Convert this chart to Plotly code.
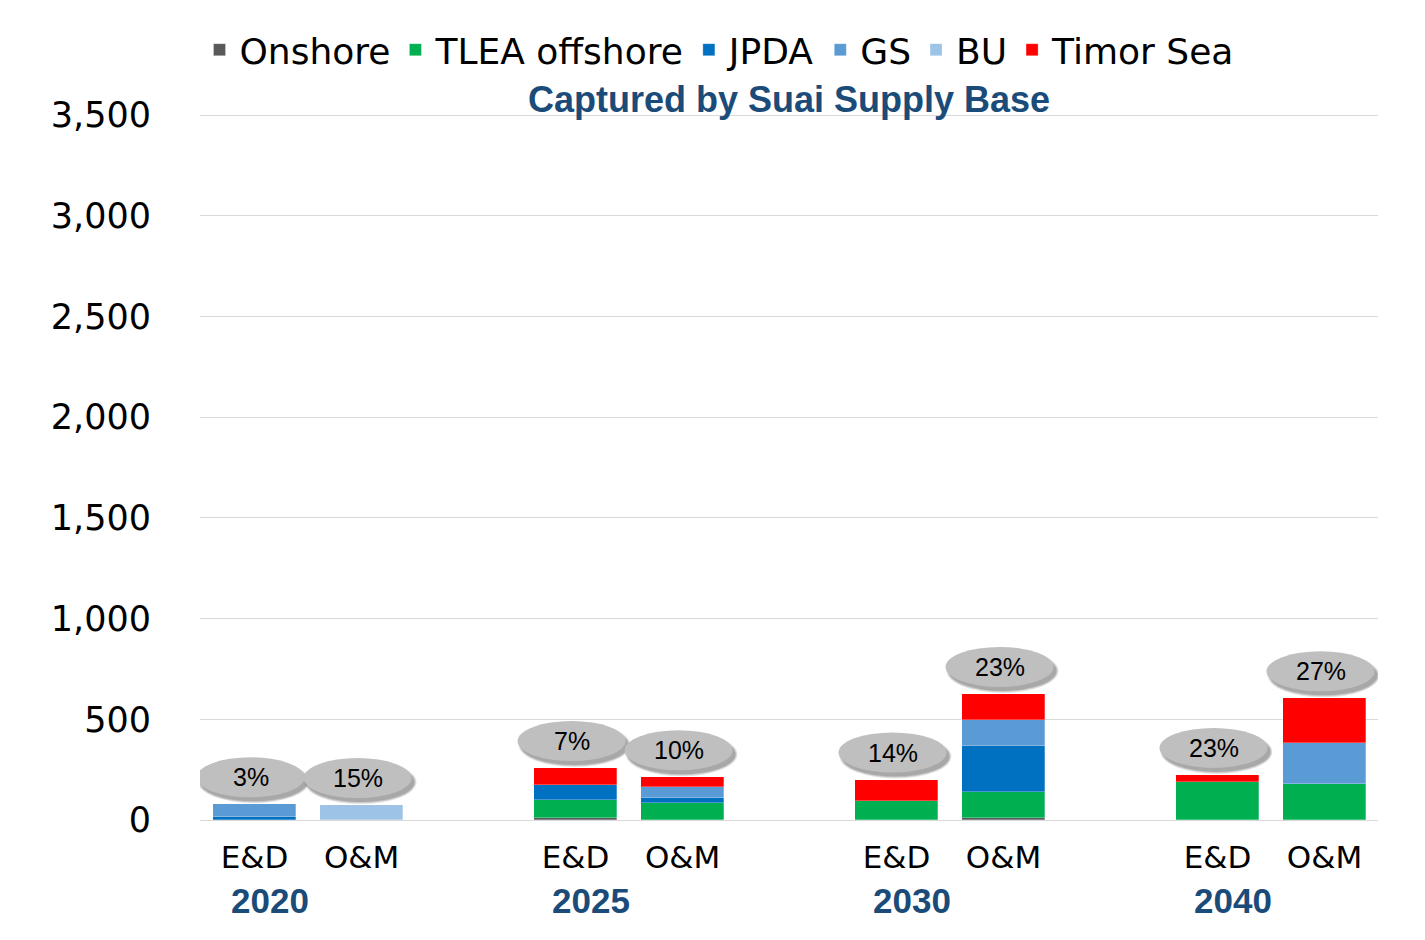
import plotly.graph_objects as go

# ---------------------------------------------------------------------------
# Data
# ---------------------------------------------------------------------------
YEARS = ["2020", "2025", "2030", "2040"]
PHASES = ["E&D", "O&M"]

# one value per bar: 2020 E&D, 2020 O&M, 2025 E&D, 2025 O&M, 2030 ..., 2040 ...
ONSHORE = [0, 0, 10, 0, 0, 8, 0, 0]
TLEA_OFFSHORE = [0, 0, 88, 83, 93, 131, 191, 180]
JPDA = [15, 0, 78, 26, 0, 229, 0, 0]
GS = [63, 0, 0, 54, 0, 127, 0, 204]
BU = [0, 74, 0, 0, 0, 0, 0, 0]
TIMOR_SEA = [0, 0, 82, 49, 108, 131, 33, 220]
SHARE_LABELS = ["3%", "15%", "7%", "10%", "14%", "23%", "23%", "27%"]

Y_TICKS = [0, 500, 1000, 1500, 2000, 2500, 3000, 3500]

# ---------------------------------------------------------------------------
# Style
# ---------------------------------------------------------------------------
COLORS = {
    "onshore": "#595959",
    "tlea": "#00B050",
    "jpda": "#0070C0",
    "gs": "#5B9BD5",
    "bu": "#9DC3E6",
    "timor": "#FF0000",
    "navy": "#1B4B78",
    "grid": "#D9D9D9",
    "bubble": "#BFBFBF",
}
WIDE_FONT = "DejaVu Sans, Verdana, sans-serif"
ARIAL = "Liberation Sans, Arial, sans-serif"

GROUP_STEP = 3  # distance between year groups, in bar slots

# bar positions derived from category order
x_pos = [gi * GROUP_STEP + pi for gi in range(len(YEARS)) for pi in range(len(PHASES))]
tick_text = [p for _ in YEARS for p in PHASES]

series = [
    ("Onshore", ONSHORE, COLORS["onshore"]),
    ("TLEA offshore", TLEA_OFFSHORE, COLORS["tlea"]),
    ("JPDA", JPDA, COLORS["jpda"]),
    ("GS", GS, COLORS["gs"]),
    ("BU", BU, COLORS["bu"]),
    ("Timor Sea", TIMOR_SEA, COLORS["timor"]),
]

fig = go.Figure()
for name, vals, color in series:
    fig.add_trace(go.Bar(
        x=x_pos, y=vals, name=name,
        marker=dict(color=color, line=dict(color="rgba(255,255,255,0.45)", width=0.6)),
        width=0.77,
    ))

totals = [sum(v) for v in zip(*[s[1] for s in series])]

# grey "bubble" labels with a soft shadow above each bar
BX0, BX1, BY0, BY1 = -58, 50, 7, 47
shapes = []
annotations = []
for xp, tot, lab in zip(x_pos, totals, SHARE_LABELS):
    for k, alpha in enumerate([0.10, 0.12, 0.16]):
        grow = 2 - k
        shapes.append(dict(
            type="circle", xref="x", yref="y", xsizemode="pixel", ysizemode="pixel",
            xanchor=xp, yanchor=tot,
            x0=BX0 + 3 - grow, x1=BX1 + 3 + grow, y0=BY0 - 4 - grow, y1=BY1 - 4 + grow,
            fillcolor=f"rgba(0,0,0,{alpha})", line=dict(width=0), layer="above",
        ))
    shapes.append(dict(
        type="circle", xref="x", yref="y", xsizemode="pixel", ysizemode="pixel",
        xanchor=xp, yanchor=tot, x0=BX0, x1=BX1, y0=BY0, y1=BY1,
        fillcolor=COLORS["bubble"], line=dict(width=0), layer="above",
    ))
    annotations.append(dict(
        x=xp, y=tot, xref="x", yref="y", text=lab, showarrow=False,
        xshift=(BX0 + BX1) / 2, yshift=(BY0 + BY1) / 2, yanchor="middle",
        font=dict(family=ARIAL, size=25, color="#000000"),
    ))

# year labels under each group
for gi, yr in enumerate(YEARS):
    annotations.append(dict(
        x=gi * GROUP_STEP, y=-0.114, xref="x", yref="paper", text=f"<b>{yr}</b>",
        showarrow=False, xshift=15, yanchor="middle",
        font=dict(family=ARIAL, size=35, color=COLORS["navy"]),
    ))

# sub-title inside the chart
annotations.append(dict(
    x=0.5, y=1.02, xref="paper", yref="paper", text="<b>Captured by Suai Supply Base</b>",
    showarrow=False, yanchor="middle",
    font=dict(family=ARIAL, size=36, color=COLORS["navy"]),
))

# page body adds an 8px margin, so the figure is sized to fit inside the window
fig.update_layout(
    width=1417, height=924,
    paper_bgcolor="white", plot_bgcolor="white",
    margin=dict(l=192, r=47, t=98, b=112),
    barmode="stack",
    bargap=0,
    showlegend=True,
    legend=dict(
        orientation="h", x=0.441, xanchor="center", y=1.091, yanchor="middle",
        font=dict(family=WIDE_FONT, size=36, color="#000000"),
        traceorder="normal", bgcolor="rgba(0,0,0,0)", itemwidth=30,
    ),
    xaxis=dict(
        range=[-0.51, 10.5], tickvals=x_pos, ticktext=tick_text,
        showgrid=False, zeroline=False, showline=False,
        ticks="", ticklabelstandoff=16,
        tickfont=dict(family=WIDE_FONT, size=31, color="#000000"),
    ),
    yaxis=dict(
        range=[0, 3505], tickvals=Y_TICKS, tickformat=",d",
        showgrid=True, gridcolor=COLORS["grid"], gridwidth=1,
        zeroline=True, zerolinecolor=COLORS["grid"], zerolinewidth=1,
        showline=False, ticks="", ticklabelstandoff=48,
        tickfont=dict(family=WIDE_FONT, size=35, color="#000000"),
    ),
    shapes=shapes,
    annotations=annotations,
)

fig.write_html("out.html")
